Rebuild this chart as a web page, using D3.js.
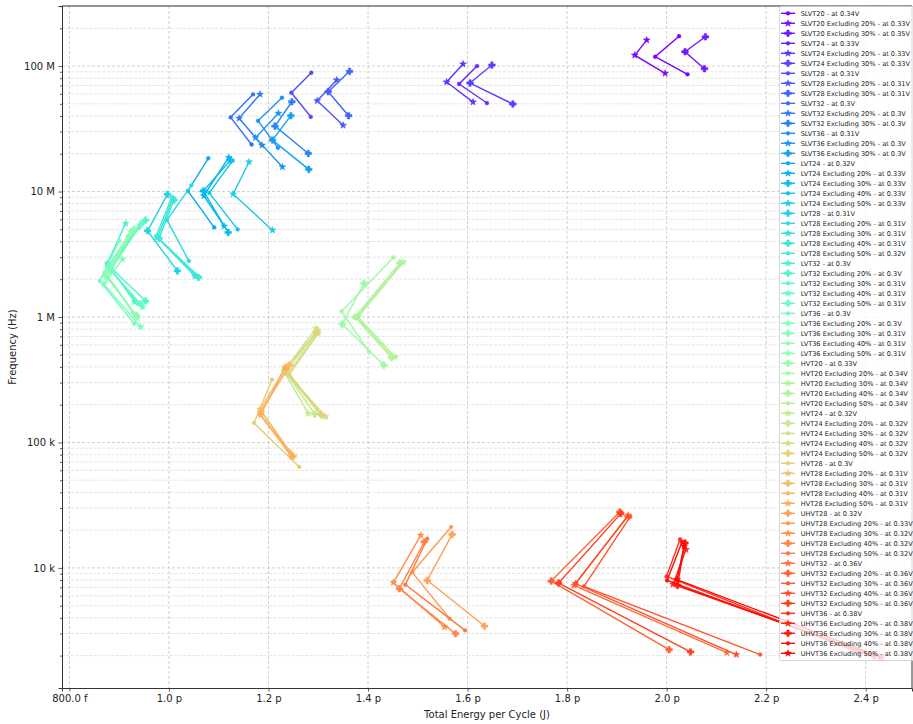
<!DOCTYPE html>
<html><head><meta charset="utf-8">
<script src="https://cdn.jsdelivr.net/npm/d3@7"></script>
<style>body{margin:0;background:#fff} svg{display:block;font-family:"DejaVu Sans",sans-serif}</style>
</head><body><svg id="c" width="913" height="724"></svg>
<script>
// ---------------- DATA ----------------
const labels = [
"SLVT20 - at 0.34V","SLVT20 Excluding 20% - at 0.33V","SLVT20 Excluding 30% - at 0.35V",
"SLVT24 - at 0.33V","SLVT24 Excluding 20% - at 0.33V","SLVT24 Excluding 30% - at 0.33V",
"SLVT28 - at 0.31V","SLVT28 Excluding 20% - at 0.31V","SLVT28 Excluding 30% - at 0.31V",
"SLVT32 - at 0.3V","SLVT32 Excluding 20% - at 0.3V","SLVT32 Excluding 30% - at 0.3V",
"SLVT36 - at 0.31V","SLVT36 Excluding 20% - at 0.3V","SLVT36 Excluding 30% - at 0.3V",
"LVT24 - at 0.32V","LVT24 Excluding 20% - at 0.33V","LVT24 Excluding 30% - at 0.33V","LVT24 Excluding 40% - at 0.33V","LVT24 Excluding 50% - at 0.33V",
"LVT28 - at 0.31V","LVT28 Excluding 20% - at 0.31V","LVT28 Excluding 30% - at 0.31V","LVT28 Excluding 40% - at 0.31V","LVT28 Excluding 50% - at 0.32V",
"LVT32 - at 0.3V","LVT32 Excluding 20% - at 0.3V","LVT32 Excluding 30% - at 0.31V","LVT32 Excluding 40% - at 0.31V","LVT32 Excluding 50% - at 0.31V",
"LVT36 - at 0.3V","LVT36 Excluding 20% - at 0.3V","LVT36 Excluding 30% - at 0.31V","LVT36 Excluding 40% - at 0.31V","LVT36 Excluding 50% - at 0.31V",
"HVT20 - at 0.33V","HVT20 Excluding 20% - at 0.34V","HVT20 Excluding 30% - at 0.34V","HVT20 Excluding 40% - at 0.34V","HVT20 Excluding 50% - at 0.34V",
"HVT24 - at 0.32V","HVT24 Excluding 20% - at 0.32V","HVT24 Excluding 30% - at 0.32V","HVT24 Excluding 40% - at 0.32V","HVT24 Excluding 50% - at 0.32V",
"HVT28 - at 0.3V","HVT28 Excluding 20% - at 0.31V","HVT28 Excluding 30% - at 0.31V","HVT28 Excluding 40% - at 0.31V","HVT28 Excluding 50% - at 0.31V",
"UHVT28 - at 0.32V","UHVT28 Excluding 20% - at 0.33V","UHVT28 Excluding 30% - at 0.32V","UHVT28 Excluding 40% - at 0.32V","UHVT28 Excluding 50% - at 0.32V",
"UHVT32 - at 0.36V","UHVT32 Excluding 20% - at 0.36V","UHVT32 Excluding 30% - at 0.36V","UHVT32 Excluding 40% - at 0.36V","UHVT32 Excluding 50% - at 0.36V",
"UHVT36 - at 0.38V","UHVT36 Excluding 20% - at 0.38V","UHVT36 Excluding 30% - at 0.38V","UHVT36 Excluding 40% - at 0.38V","UHVT36 Excluding 50% - at 0.38V"
];

// total energy per cycle, in pJ (three operating points per series)
const energy_pJ = [
[2.025,1.977,2.042],[1.960,1.936,1.997],[2.078,2.037,2.076],
[1.619,1.583,1.639],[1.591,1.558,1.611],[1.649,1.605,1.691],
[1.286,1.246,1.285],[1.337,1.298,1.350],[1.363,1.320,1.361],
[1.169,1.124,1.166],[1.183,1.141,1.187],[1.247,1.213,1.280],
[1.227,1.179,1.219],[1.220,1.174,1.228],[1.245,1.208,1.281],
[1.079,1.038,1.091],[1.120,1.070,1.111],[1.124,1.069,1.119],[1.128,1.081,1.138],[1.161,1.129,1.208],
[0.997,0.957,1.017],[1.045,0.996,1.040],[1.008,0.977,1.052],[1.010,0.980,1.059],[1.006,0.974,1.062],
[0.913,0.876,0.931],[0.953,0.879,0.953],[0.938,0.877,0.938],[0.947,0.881,0.947],[0.943,0.883,0.942],
[0.900,0.861,0.930],[0.907,0.869,0.943],[0.930,0.873,0.935],[0.917,0.871,0.927],[0.923,0.875,0.937],
[1.392,1.348,1.432],[1.451,1.347,1.402],[1.471,1.380,1.455],[1.464,1.374,1.447],[1.467,1.377,1.451],
[1.295,1.231,1.280],[1.298,1.235,1.293],[1.299,1.239,1.303],[1.300,1.241,1.315],[1.296,1.234,1.307],
[1.207,1.171,1.262],[1.237,1.183,1.243],[1.242,1.185,1.250],[1.239,1.182,1.246],[1.233,1.184,1.247],
[1.569,1.519,1.634],[1.567,1.489,1.564],[1.506,1.451,1.554],[1.513,1.463,1.576],[1.519,1.475,1.595],
[1.923,1.814,2.121],[1.906,1.768,2.005],[1.927,1.834,2.188],[1.921,1.817,2.140],[1.908,1.783,2.048],
[2.027,2.000,2.385],[2.039,2.013,2.432],[2.037,2.022,2.417],[2.031,2.001,2.402],[2.035,2.021,2.429]
];

// frequency, in Hz
const freq_Hz = [
[173e6,118.6e6,85.9e6],[161e6,122e6,87.5e6],[171e6,130e6,95.2e6],
[100e6,71.9e6,50.7e6],[103.7e6,74.6e6,51.6e6],[101.8e6,73.2e6,49.8e6],
[88.4e6,61.3e6,39.4e6],[77.3e6,52.9e6,33.7e6],[90.7e6,62.4e6,40.2e6],
[59.5e6,39.0e6,23.7e6],[59.5e6,38.3e6,23.4e6],[51.9e6,33.2e6,20.1e6],
[55.9e6,36.6e6,22.3e6],[42.0e6,26.8e6,15.7e6],[40.2e6,25.7e6,15.0e6],
[18.4e6,10.1e6,5.17e6],[18.7e6,9.24e6,5.30e6],[17.8e6,10.1e6,4.72e6],[17.6e6,9.76e6,4.99e6],[17.2e6,9.54e6,4.92e6],
[9.48e6,4.86e6,2.33e6],[11.2e6,5.91e6,2.80e6],[8.81e6,4.31e6,2.12e6],[8.54e6,4.23e6,2.07e6],[9.02e6,4.41e6,2.07e6],
[5.57e6,2.67e6,1.32e6],[5.91e6,2.57e6,1.34e6],[5.08e6,2.54e6,1.27e6],[5.70e6,2.45e6,1.20e6],[5.45e6,2.36e6,1.28e6],
[4.05e6,1.94e6,887e3],[2.89e6,1.83e6,834e3],[4.99e6,2.12e6,1.03e6],[4.41e6,2.28e6,1.09e6],[4.83e6,2.19e6,978e3],
[1.85e6,876e3,413e3],[2.98e6,1.11e6,527e3],[2.74e6,1.00e6,481e3],[2.70e6,1.00e6,475e3],[2.66e6,997e3,478e3],
[810e3,370e3,170e3],[785e3,363e3,168e3],[763e3,350e3,168e3],[739e3,344e3,160e3],[756e3,386e3,165e3],
[317e3,143e3,63.8e3],[405e3,184e3,84.0e3],[413e3,177e3,77.6e3],[386e3,171e3,80.5e3],[397e3,165e3,76.9e3],
[18.5e3,7.96e3,3.44e3],[21.2e3,9.22e3,3.94e3],[18.2e3,7.64e3,3.38e3],[16.1e3,6.84e3,2.99e3],[17.1e3,7.36e3,3.18e3],
[26.3e3,7.26e3,2.11e3],[27.9e3,7.86e3,2.23e3],[25.6e3,7.13e3,2.04e3],[25.5e3,7.50e3,2.04e3],[27.1e3,7.58e3,2.14e3],
[16.9e3,8.57e3,2.12e3],[14.0e3,7.40e3,1.92e3],[15.8e3,7.26e3,1.99e3],[16.1e3,7.96e3,2.05e3],[14.9e3,8.07e3,1.96e3]
];

const markerCycle = ["dot","star","plus"];
const xTicks = [0.8,1.0,1.2,1.4,1.6,1.8,2.0,2.2,2.4];       // pJ
const xTickLabels = ["800.0 f","1.0 p","1.2 p","1.4 p","1.6 p","1.8 p","2.0 p","2.2 p","2.4 p"];
const yTicks = [1e4,1e5,1e6,1e7,1e8];
const yTickLabels = ["10 k","100 k","1 M","10 M","100 M"];

// ---------------- CHART ----------------
const svg = d3.select("#c");
const m = {l:62, r:912, t:6, b:688};
const x = d3.scaleLinear().domain([0.7851, 2.4931]).range([m.l, m.r]);
const y = d3.scaleLog().domain([1104, 3.009e8]).range([m.b, m.t]);

function rainbow(t){
  const r = Math.min(1, Math.abs(2*t - 0.5));
  const g = Math.sin(Math.PI*t);
  const b = Math.cos(Math.PI*t/2);
  return d3.rgb(r*255, g*255, b*255).formatHex();
}
const N = labels.length;
const color = i => rainbow(i/(N-1));

// minor y values
const yMinor = [];
for (let d=3; d<=8; d++) for (let k=2;k<=9;k++){ const v=k*Math.pow(10,d); if(v>=1104 && v<=3.009e8) yMinor.push(v); }

// grids
const grid = svg.append("g");
grid.selectAll(".ym").data(yMinor).enter().append("line")
  .attr("x1",m.l).attr("x2",m.r).attr("y1",d=>y(d)).attr("y2",d=>y(d))
  .attr("stroke","#e4e4e4").attr("stroke-width",1).attr("stroke-dasharray","3,1.5");
grid.selectAll(".yM").data(yTicks).enter().append("line")
  .attr("x1",m.l).attr("x2",m.r).attr("y1",d=>y(d)).attr("y2",d=>y(d))
  .attr("stroke","#c4c4c4").attr("stroke-width",0.8).attr("stroke-dasharray","3,2");
grid.selectAll(".xM").data(xTicks).enter().append("line")
  .attr("y1",m.t).attr("y2",m.b).attr("x1",d=>x(d)).attr("x2",d=>x(d))
  .attr("stroke","#c4c4c4").attr("stroke-width",0.8).attr("stroke-dasharray","3,2");

// clip
svg.append("defs").append("clipPath").attr("id","clip").append("rect")
  .attr("x",m.l).attr("y",m.t).attr("width",m.r-m.l).attr("height",m.b-m.t);

function markerPath(type){
  if(type==="dot") return d3.symbol(d3.symbolCircle, Math.PI*1.9*1.9)();
  if(type==="star"){
    const R=3.6, r=R*0.42; let p=[];
    for(let k=0;k<10;k++){const a=-Math.PI/2+k*Math.PI/5; const rr=k%2?r:R; p.push([rr*Math.cos(a), rr*Math.sin(a)]);}
    return "M"+p.map(q=>q[0].toFixed(2)+","+q[1].toFixed(2)).join("L")+"Z";
  }
  const h=3.3, t=1.15;
  return `M${-t},${-h}H${t}V${-t}H${h}V${t}H${t}V${h}H${-t}V${t}H${-h}V${-t}H${-t}Z`;
}

const plot = svg.append("g").attr("clip-path","url(#clip)");
const line = d3.line().x(d=>x(d[0])).y(d=>y(d[1]));
for(let i=0;i<N;i++){
  const pts = energy_pJ[i].map((e,j)=>[e, freq_Hz[i][j]]);
  const c = color(i);
  const g = plot.append("g");
  g.append("path").attr("d",line(pts)).attr("fill","none").attr("stroke",c).attr("stroke-width",1.4);
  g.selectAll("path.mk").data(pts).enter().append("path").attr("class","mk")
    .attr("d",markerPath(markerCycle[i%3]))
    .attr("transform",d=>`translate(${x(d[0])},${y(d[1])})`)
    .attr("fill",c).attr("stroke",c).attr("stroke-width",0.5);
}

// axes
const ax = svg.append("g").attr("transform",`translate(0,${m.b})`)
  .call(d3.axisBottom(x).tickValues(xTicks).tickFormat((d,i)=>xTickLabels[i]).tickSize(3.5).tickPadding(3.5));
const ay = svg.append("g").attr("transform",`translate(${m.l},0)`)
  .call(d3.axisLeft(y).tickValues(yTicks).tickFormat((d,i)=>yTickLabels[i]).tickSize(3.5).tickPadding(3.5));
const aym = svg.append("g").attr("transform",`translate(${m.l},0)`)
  .call(d3.axisLeft(y).tickValues(yMinor).tickFormat("").tickSize(2));
aym.select(".domain").remove();
[ax,ay,aym].forEach(a=>{
  a.selectAll("path.domain").attr("stroke","#333").attr("stroke-width",1);
  a.selectAll(".tick line").attr("stroke","#333").attr("stroke-width",0.8);
  a.selectAll("text").attr("font-size",10).attr("fill","#222").attr("font-family","DejaVu Sans");
});
svg.append("line").attr("x1",m.l).attr("x2",m.r).attr("y1",m.t).attr("y2",m.t).attr("stroke","#333");
svg.append("line").attr("x1",m.r).attr("x2",m.r).attr("y1",m.t).attr("y2",m.b).attr("stroke","#333");

svg.append("text").attr("x",(m.l+m.r)/2).attr("y",718).attr("text-anchor","middle")
  .attr("font-size",10).attr("fill","#222").text("Total Energy per Cycle (J)");
svg.append("text").attr("transform",`translate(16,${(m.t+m.b)/2}) rotate(-90)`).attr("text-anchor","middle")
  .attr("font-size",10).attr("fill","#222").text("Frequency (Hz)");

// legend
const lg = svg.append("g");
lg.append("rect").attr("x",779.5).attr("y",6.5).attr("width",140).attr("height",654)
  .attr("rx",2).attr("fill","#fff").attr("fill-opacity",0.8).attr("stroke","#cccccc").attr("stroke-width",0.8);
for(let i=0;i<N;i++){
  const yy = 13.3 + i*10;
  const c = color(i);
  lg.append("line").attr("x1",781).attr("x2",795).attr("y1",yy).attr("y2",yy).attr("stroke",c).attr("stroke-width",1.4);
  lg.append("path").attr("d",markerPath(markerCycle[i%3])).attr("transform",`translate(788,${yy})`)
    .attr("fill",c).attr("stroke",c).attr("stroke-width",0.5);
  lg.append("text").attr("x",800.7).attr("y",yy).attr("dy","0.35em").attr("font-size",6.6)
    .attr("fill","#222").text(labels[i]);
}
</script></body></html>
